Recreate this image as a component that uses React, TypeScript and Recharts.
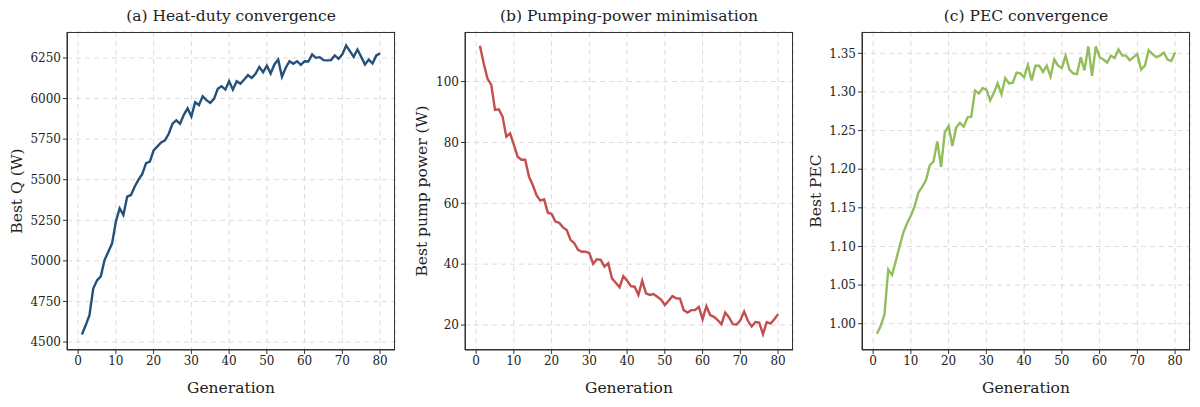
import React from 'react';
import { LineChart, Line, XAxis, YAxis, CartesianGrid } from 'recharts';

const generations = Array.from({ length: 80 }, (_, i) => i + 1);

const heatDuty = [
  4547, 4603, 4665, 4830, 4880, 4905, 5005, 5056, 5108, 5242,
  5324, 5283, 5396, 5406, 5458, 5500, 5536, 5602, 5612, 5680,
  5705, 5730, 5742, 5783, 5845, 5866, 5845, 5900, 5940, 5890,
  5977, 5960, 6014, 5990, 5973, 5998, 6060, 6076, 6055, 6107,
  6055, 6107, 6092, 6117, 6144, 6127, 6152, 6195, 6162, 6203,
  6154, 6210, 6240, 6134, 6190, 6230, 6214, 6230, 6208, 6230,
  6228, 6272, 6251, 6255, 6237, 6235, 6237, 6266, 6245, 6272,
  6327, 6292, 6257, 6302, 6257, 6210, 6240, 6216, 6266, 6278,
];

const pumpPower = [
  111.8, 106, 101, 99, 90.7, 90.9, 88.5, 81.9, 83, 79.2,
  75.3, 74.3, 74.3, 68.8, 66, 62.7, 60.9, 61.3, 56.9, 56.5,
  54, 53.6, 52.1, 51.2, 48, 46.9, 44.7, 44.1, 44.1, 43.6,
  40.1, 41.6, 41.4, 39.2, 40.3, 35.3, 33.9, 32.4, 36.1, 34.6,
  32.8, 32.6, 29.9, 34.6, 30.4, 29.9, 30.2, 29.3, 28.4, 26.6,
  28, 29.5, 28.8, 28.7, 24.9, 24.1, 24.9, 24.9, 26, 21.9,
  26.2, 23.3, 22.7, 21.6, 20.3, 24.1, 22.5, 20.3, 20.2, 21.6,
  24.4, 21.4, 19.5, 21, 20.8, 17, 21, 20.5, 21.9, 23.6,
];

const pec = [
  0.987, 0.997, 1.012, 1.07, 1.063, 1.081, 1.1, 1.118, 1.13, 1.14,
  1.152, 1.17, 1.177, 1.186, 1.205, 1.21, 1.236, 1.203, 1.248, 1.256,
  1.23, 1.254, 1.26, 1.255, 1.267, 1.268, 1.302, 1.298, 1.305, 1.303,
  1.289, 1.299, 1.311, 1.297, 1.318, 1.311, 1.312, 1.325, 1.324, 1.319,
  1.335, 1.315, 1.334, 1.334, 1.326, 1.334, 1.32, 1.342, 1.334, 1.331,
  1.347, 1.329, 1.324, 1.323, 1.345, 1.328, 1.359, 1.321, 1.359, 1.345,
  1.342, 1.338, 1.347, 1.344, 1.355, 1.347, 1.347, 1.341, 1.345, 1.349,
  1.329, 1.334, 1.354, 1.349, 1.345, 1.347, 1.351, 1.342, 1.34, 1.351,
];

const xTicks = [0, 10, 20, 30, 40, 50, 60, 70, 80];
const heatTicks = [4500, 4750, 5000, 5250, 5500, 5750, 6000, 6250];
const pumpTicks = [20, 40, 60, 80, 100];
const pecTicks = [1.0, 1.05, 1.1, 1.15, 1.2, 1.25, 1.3, 1.35];

const FONT = '"DejaVu Serif", serif';
const tickStyle = { fontSize: 12, fill: '#222', fontFamily: FONT };

interface PanelProps {
  left: number;
  title: string;
  yLabel: string;
  labelOffset: number;
  values: number[];
  yTicks: number[];
  yDomain: [number, number];
  color: string;
  fmt: (v: number) => string;
}

const Panel: React.FC<PanelProps> = ({ left, title, yLabel, labelOffset, values, yTicks, yDomain, color, fmt }) => {
  const data = generations.map((g, i) => ({ g, v: values[i] }));
  return (
    <div style={{ position: 'absolute', left, top: 0, width: 400, height: 407 }}>
      <div style={{ position: 'absolute', left: 67, width: 328, top: 7, textAlign: 'center', fontFamily: FONT, fontSize: 15.5, color: '#222' }}>
        {title}
      </div>
      <LineChart width={400} height={407} data={data} margin={{ top: 32, right: 5, bottom: 0, left: 0 }}>
        <CartesianGrid stroke="#dcdcdc" strokeDasharray="5 4" />
        <XAxis
          dataKey="g"
          type="number"
          domain={[-2.95, 83.95]}
          ticks={xTicks}
          height={57}
          tick={tickStyle}
          tickSize={4}
          stroke="#333"
          label={{ value: 'Generation', position: 'insideBottom', offset: 14, style: { fontSize: 15.5, fill: '#222', fontFamily: FONT } }}
        />
        <YAxis
          type="number"
          domain={yDomain}
          ticks={yTicks}
          width={67}
          tick={tickStyle}
          tickSize={4}
          tickFormatter={fmt}
          stroke="#333"
          allowDataOverflow
          label={{ value: yLabel, angle: -90, position: 'insideLeft', offset: labelOffset, style: { fontSize: 15.5, fill: '#222', fontFamily: FONT, textAnchor: 'middle' } }}
        />
        <Line type="linear" dataKey="v" stroke={color} strokeWidth={2.4} dot={false} isAnimationActive={false} />
      </LineChart>
      <div style={{ position: 'absolute', left: 67, top: 32, width: 328, height: 318, border: '1px solid #333', boxSizing: 'border-box', pointerEvents: 'none' }} />
    </div>
  );
};

export default function App() {
  return (
    <div style={{ position: 'absolute', left: 0, top: 0, width: 1200, height: 407, background: '#fff' }}>
      <Panel left={0} title="(a) Heat-duty convergence" yLabel="Best Q (W)" labelOffset={16} values={heatDuty} yTicks={heatTicks}
        yDomain={[4451, 6410]} color="#24507a" fmt={(v) => String(v)} />
      <Panel left={398} title="(b) Pumping-power minimisation" yLabel="Best pump power (W)" labelOffset={23} values={pumpPower} yTicks={pumpTicks}
        yDomain={[11.8, 116.3]} color="#c44e4e" fmt={(v) => String(v)} />
      <Panel left={795} title="(c) PEC convergence" yLabel="Best PEC" labelOffset={20} values={pec} yTicks={pecTicks}
        yDomain={[0.966, 1.3776]} color="#92bd5a" fmt={(v) => v.toFixed(2)} />
    </div>
  );
}
